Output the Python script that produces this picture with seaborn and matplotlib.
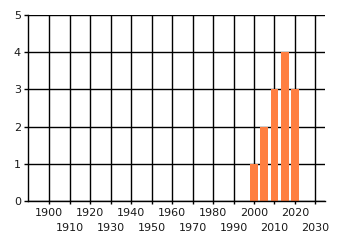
import matplotlib
matplotlib.use("Agg")
import matplotlib.pyplot as plt
import seaborn as sns
import pandas as pd
import numpy as np

years = [2000, 2005, 2010, 2015, 2020]
counts = [1, 2, 3, 4, 3]
major_ticks = [1900, 1920, 1940, 1960, 1980, 2000, 2020]
minor_ticks = [1910, 1930, 1950, 1970, 1990, 2010, 2030]
y_ticks = [0, 1, 2, 3, 4, 5]

sns.set_theme(style="white")
plt.rcParams['font.family'] = ['DejaVu Sans']

df = pd.DataFrame({"year": years, "count": counts})

fig = plt.figure(figsize=(3.4, 2.45), dpi=100)
ax = fig.add_axes([28/340, 1-201/245, (325-28)/340, (201-15)/245])

sns.barplot(data=df, x="year", y="count", native_scale=True, width=0.76,
            color="#ff7f41", saturation=1, ax=ax,
            edgecolor="none", linewidth=0)
for p in ax.patches:
    p.set_zorder(5)

ax.set_xlim(1889.6, 2034.7)
ax.set_ylim(0, 5)
ax.set_xticks(major_ticks)
ax.set_xticks(minor_ticks, minor=True)
ax.set_xticklabels([str(t) for t in major_ticks])
ax.set_xticklabels([str(t) for t in minor_ticks], minor=True)
ax.set_yticks(y_ticks)
ax.set_yticklabels([str(t) for t in y_ticks])

ax.set_axisbelow(True)
ax.grid(True, which="both", color="black", linewidth=1.0)
for s in ["top", "right"]:
    ax.spines[s].set_visible(False)
for s in ["left", "bottom"]:
    ax.spines[s].set_color("black")
    ax.spines[s].set_linewidth(1.0)
    ax.spines[s].set_zorder(6)

ax.tick_params(axis="x", which="major", length=2, width=1, color="black",
               pad=3, labelsize=8, labelcolor="#1a1a1a", bottom=True)
ax.tick_params(axis="x", which="minor", length=2, width=1, color="black",
               pad=14, labelsize=8, labelcolor="#1a1a1a", bottom=True)
ax.tick_params(axis="y", which="major", length=3, width=1, color="black",
               pad=2, labelsize=8, labelcolor="#1a1a1a", left=True)
ax.set_xlabel("")
ax.set_ylabel("")

fig.savefig("out.png", dpi=100)
